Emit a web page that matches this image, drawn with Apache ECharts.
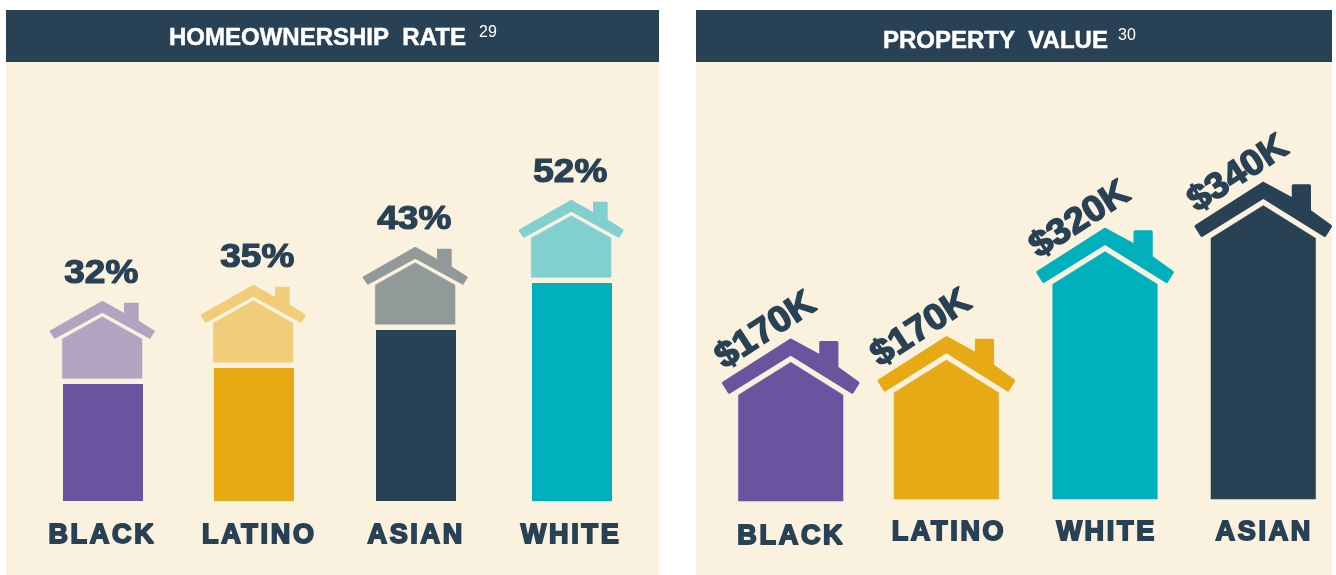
<!DOCTYPE html>
<html>
<head>
<meta charset="utf-8">
<style>html,body{margin:0;padding:0;background:#fff}#c{width:1336px;height:575px}</style>
<script src="https://cdn.jsdelivr.net/npm/echarts@6/dist/echarts.min.js"></script>
</head>
<body>
<div id="c"></div>
<script>
// Data
const rateTitle = 'HOMEOWNERSHIP  RATE';
const rateNote = '29';
const rateCategories = ['BLACK', 'LATINO', 'ASIAN', 'WHITE'];
const rateLabels = ['32%', '35%', '43%', '52%'];
const rateBarLevels = [29.25, 33.25, 42.75, 54.5];

const valueTitle = 'PROPERTY  VALUE';
const valueNote = '30';
const valueCategories = ['BLACK', 'LATINO', 'WHITE', 'ASIAN'];
const valueLabels = ['$170K', '$170K', '$320K', '$340K'];
const valueEaveLevels = [132.5, 135.4, 270.9, 328.4];
const valueBaseLevels = [0, 2.5, 2.5, 2.5];

// Category labels are letter-spaced in the reference: apply it for their font size only.
const fontProp = Object.getOwnPropertyDescriptor(CanvasRenderingContext2D.prototype, 'font');
Object.defineProperty(CanvasRenderingContext2D.prototype, 'font', {
  get() { return fontProp.get.call(this); },
  set(v) { fontProp.set.call(this, v); this.letterSpacing = /\b27px/.test(v) ? '2.7px' : '0px'; }
});

// Styles and layout
const NAVY = '#284155', CREAM = '#faf1df';
const rateBarColors = ['#6b549f', '#e8aa14', '#284155', '#00b0bd'];
const rateHouseColors = ['#b3a3c0', '#f1cd79', '#929a99', '#82cfcf'];
const valueColors = ['#6b549f', '#e8aa14', '#00b0bd', '#284155'];
const rateNudge = [2.1, -3.8, 1.3, 0.4];
const rateLabelNudge = [-1, 4, -1, -1];
const valueNudge = [0.9, -1.1, -0.1, 0.5];

const smallRoof = [[0,-37.1],[22.7,-24.5],[22.7,-35.3],[35.4,-35.3],[35.4,-17.8],[51.4,-7.7],[47.4,-1.3],[0,-27.5],[-47.4,-1.3],[-51.7,-7.7]];
const smallBody = [[0,-22.3],[39.7,0],[39.7,39.3],[-40,39.3],[-40,0]];
const bigRoof = [[0,-55],[30,-38.7],[30,-52.5],[46.2,-52.5],[46.2,-27.2],[67.3,-12],[61.5,-2.8],[0,-41.1],[-61.5,-2.8],[-67.3,-12]];
const bigBody = [[0,-32.7],[52.3,0],[52.3,0],[-52.3,0],[-52.3,0]];

const shift = (pts, x, y) => pts.map(p => [p[0] + x, p[1] + y]);
const poly = (points, fill, lw) => ({type: 'polygon', shape: {points}, style: {fill, stroke: fill, lineWidth: lw, lineJoin: 'round'}});

function renderRate(params, api) {
  const i = params.dataIndex;
  const base = api.coord([api.value(0), 0]);
  const top = api.coord([api.value(0), api.value(1)]);
  const cx = base[0] + rateNudge[i];
  const eave = top[1] - 45;
  const hx = cx - 0.7;
  return {type: 'group', children: [
    {type: 'rect', shape: {x: cx - 40, y: top[1], width: 80, height: base[1] - top[1]}, style: {fill: rateBarColors[i]}},
    poly(shift(smallBody, hx, eave), rateHouseColors[i], 0.5),
    poly(shift(smallRoof, hx, eave), rateHouseColors[i], 2),
    {type: 'text', x: hx + rateLabelNudge[i], y: eave - 38.3 - 27, scaleX: 1.12,
      style: {text: rateLabels[i], font: 'bold 33px "Liberation Sans"', fill: NAVY, stroke: NAVY, lineWidth: 1.2, align: 'center', verticalAlign: 'middle'}}
  ]};
}

function renderValue(params, api) {
  const i = params.dataIndex;
  const base = api.coord([api.value(0), api.value(2)]);
  const eaveP = api.coord([api.value(0), api.value(1)]);
  const cx = base[0] + valueNudge[i];
  const eave = eaveP[1];
  const h = base[1] - eave;
  const body = bigBody.map((p, k) => [p[0] + cx, p[1] + eave + (k === 2 || k === 3 ? h : 0)]);
  return {type: 'group', children: [
    poly(body, valueColors[i], 0.5),
    poly(shift(bigRoof, cx, eave), valueColors[i], 3),
    {type: 'text', x: cx - 25, y: eave - 56.7 - 7.5, rotation: 33 * Math.PI / 180, scaleX: 1.05,
      style: {text: valueLabels[i], font: 'bold 36px "Liberation Sans"', fill: NAVY, stroke: NAVY, lineWidth: 1.5, align: 'center', verticalAlign: 'middle'}}
  ]};
}

const axisLabel = {show: true, interval: 0, color: NAVY, fontFamily: 'Liberation Sans', fontWeight: 'bold', fontSize: 27, textBorderColor: NAVY, textBorderWidth: 1.8};
const hiddenValue = {type: 'value', min: 0, show: false, splitLine: {show: false}};
const titleStyle = {color: '#fff', fontFamily: 'Liberation Sans', fontWeight: 'bold', fontSize: 24, textBorderColor: '#fff', textBorderWidth: 0.5};
const noteStyle = {color: '#fff', fontFamily: 'Liberation Sans', fontWeight: 'normal', fontSize: 16};

const option = {
  backgroundColor: '#ffffff',
  animation: false,
  title: [
    {text: rateTitle, left: 164, top: 21, textStyle: titleStyle},
    {text: rateNote, left: 474, top: 20, textStyle: noteStyle},
    {text: valueTitle, left: 878, top: 24, textStyle: titleStyle},
    {text: valueNote, left: 1113, top: 23, textStyle: noteStyle}
  ],
  graphic: [
    {type: 'rect', z: -10, shape: {x: 6, y: 62, width: 653, height: 513}, style: {fill: CREAM}},
    {type: 'rect', z: -10, shape: {x: 6, y: 10, width: 653, height: 52}, style: {fill: NAVY}},
    {type: 'rect', z: -10, shape: {x: 696, y: 62, width: 636, height: 513}, style: {fill: CREAM}},
    {type: 'rect', z: -10, shape: {x: 696, y: 10, width: 636, height: 52}, style: {fill: NAVY}}
  ],
  grid: [
    {left: 22.45, width: 627.6, top: 61, height: 440, outerBoundsMode: 'none'},
    {left: 711, width: 630.6, top: 61, height: 440, outerBoundsMode: 'none'}
  ],
  xAxis: [
    {type: 'category', gridIndex: 0, axisLine: {show: false}, axisTick: {show: false}, splitLine: {show: false},
      axisLabel: Object.assign({}, axisLabel, {margin: 20}),
      data: rateCategories.map((v, i) => ({value: v, textStyle: {padding: [0, i === 3 ? 1 : 0, 0, i === 3 ? 0 : 3]}}))},
    {type: 'category', gridIndex: 1, axisLine: {show: false}, axisTick: {show: false}, splitLine: {show: false},
      axisLabel: Object.assign({}, axisLabel, {margin: 17}),
      data: valueCategories.map((v, i) => ({value: v, textStyle: {padding: [i === 0 ? 4 : 0, 0, 0, 3]}}))}
  ],
  yAxis: [
    Object.assign({}, hiddenValue, {gridIndex: 0, max: 110}),
    Object.assign({}, hiddenValue, {gridIndex: 1, max: 550})
  ],
  series: [
    {type: 'custom', name: 'Homeownership rate', xAxisIndex: 0, yAxisIndex: 0, clip: false,
      encode: {x: 0, y: 1}, renderItem: renderRate,
      data: rateBarLevels.map((v, i) => [i, v])},
    {type: 'custom', name: 'Property value', xAxisIndex: 1, yAxisIndex: 1, clip: false,
      encode: {x: 0, y: 1}, renderItem: renderValue,
      data: valueEaveLevels.map((v, i) => [i, v, valueBaseLevels[i]])}
  ]
};
const chart = echarts.init(document.getElementById('c'), null, {renderer: 'canvas'});
chart.setOption(option);
</script>
</body>
</html>
